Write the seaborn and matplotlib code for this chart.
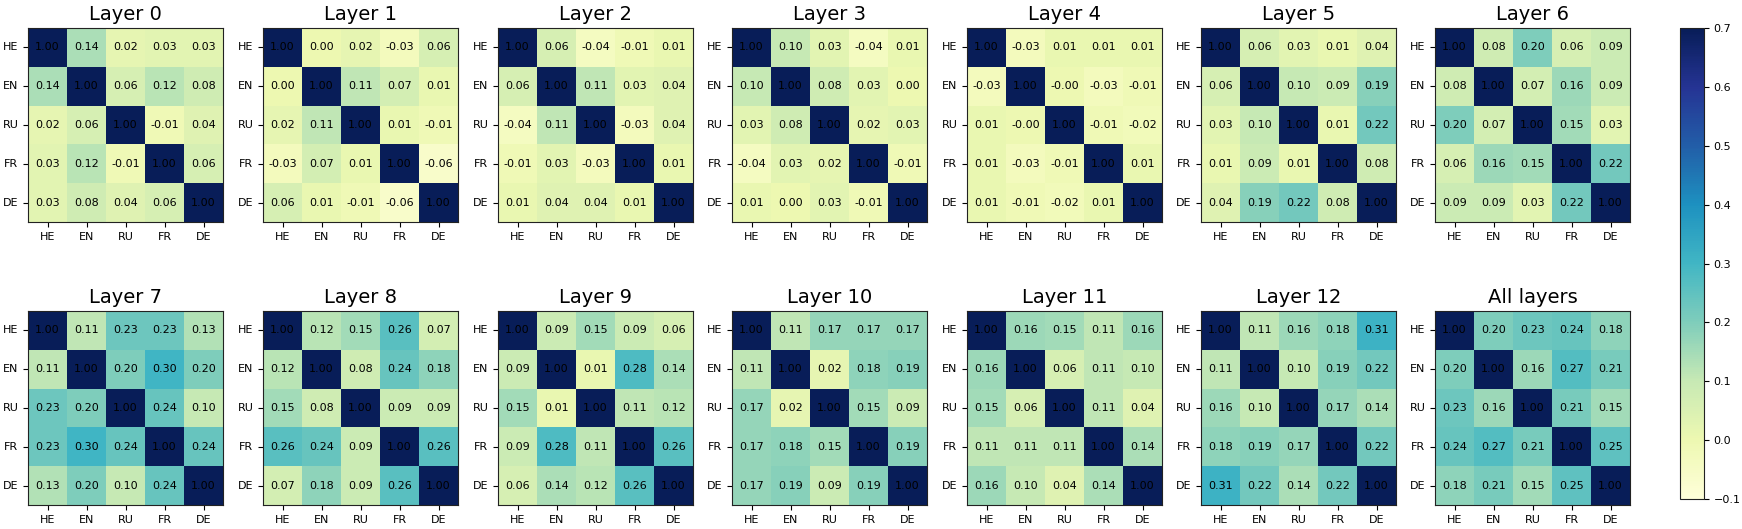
import numpy as np
import matplotlib
matplotlib.use("Agg")
import matplotlib.pyplot as plt
import seaborn as sns

langs = ["HE", "EN", "RU", "FR", "DE"]
titles = ["Layer 0", "Layer 1", "Layer 2", "Layer 3", "Layer 4", "Layer 5", "Layer 6",
          "Layer 7", "Layer 8", "Layer 9", "Layer 10", "Layer 11", "Layer 12", "All layers"]

layer_0 = [[1.00, 0.14, 0.02, 0.03, 0.03],
           [0.14, 1.00, 0.06, 0.12, 0.08],
           [0.02, 0.06, 1.00, -0.01, 0.04],
           [0.03, 0.12, -0.01, 1.00, 0.06],
           [0.03, 0.08, 0.04, 0.06, 1.00]]
layer_1 = [[1.00, 0.00, 0.02, -0.03, 0.06],
           [0.00, 1.00, 0.11, 0.07, 0.01],
           [0.02, 0.11, 1.00, 0.01, -0.01],
           [-0.03, 0.07, 0.01, 1.00, -0.06],
           [0.06, 0.01, -0.01, -0.06, 1.00]]
layer_2 = [[1.00, 0.06, -0.04, -0.01, 0.01],
           [0.06, 1.00, 0.11, 0.03, 0.04],
           [-0.04, 0.11, 1.00, -0.03, 0.04],
           [-0.01, 0.03, -0.03, 1.00, 0.01],
           [0.01, 0.04, 0.04, 0.01, 1.00]]
layer_3 = [[1.00, 0.10, 0.03, -0.04, 0.01],
           [0.10, 1.00, 0.08, 0.03, 0.00],
           [0.03, 0.08, 1.00, 0.02, 0.03],
           [-0.04, 0.03, 0.02, 1.00, -0.01],
           [0.01, 0.00, 0.03, -0.01, 1.00]]
layer_4 = [[1.00, -0.03, 0.01, 0.01, 0.01],
           [-0.03, 1.00, -0.001, -0.03, -0.01],
           [0.01, -0.001, 1.00, -0.01, -0.02],
           [0.01, -0.03, -0.01, 1.00, 0.01],
           [0.01, -0.01, -0.02, 0.01, 1.00]]
layer_5 = [[1.00, 0.06, 0.03, 0.01, 0.04],
           [0.06, 1.00, 0.10, 0.09, 0.19],
           [0.03, 0.10, 1.00, 0.01, 0.22],
           [0.01, 0.09, 0.01, 1.00, 0.08],
           [0.04, 0.19, 0.22, 0.08, 1.00]]
layer_6 = [[1.00, 0.08, 0.20, 0.06, 0.09],
           [0.08, 1.00, 0.07, 0.16, 0.09],
           [0.20, 0.07, 1.00, 0.15, 0.03],
           [0.06, 0.16, 0.15, 1.00, 0.22],
           [0.09, 0.09, 0.03, 0.22, 1.00]]
layer_7 = [[1.00, 0.11, 0.23, 0.23, 0.13],
           [0.11, 1.00, 0.20, 0.30, 0.20],
           [0.23, 0.20, 1.00, 0.24, 0.10],
           [0.23, 0.30, 0.24, 1.00, 0.24],
           [0.13, 0.20, 0.10, 0.24, 1.00]]
layer_8 = [[1.00, 0.12, 0.15, 0.26, 0.07],
           [0.12, 1.00, 0.08, 0.24, 0.18],
           [0.15, 0.08, 1.00, 0.09, 0.09],
           [0.26, 0.24, 0.09, 1.00, 0.26],
           [0.07, 0.18, 0.09, 0.26, 1.00]]
layer_9 = [[1.00, 0.09, 0.15, 0.09, 0.06],
           [0.09, 1.00, 0.01, 0.28, 0.14],
           [0.15, 0.01, 1.00, 0.11, 0.12],
           [0.09, 0.28, 0.11, 1.00, 0.26],
           [0.06, 0.14, 0.12, 0.26, 1.00]]
layer_10 = [[1.00, 0.11, 0.17, 0.17, 0.17],
            [0.11, 1.00, 0.02, 0.18, 0.19],
            [0.17, 0.02, 1.00, 0.15, 0.09],
            [0.17, 0.18, 0.15, 1.00, 0.19],
            [0.17, 0.19, 0.09, 0.19, 1.00]]
layer_11 = [[1.00, 0.16, 0.15, 0.11, 0.16],
            [0.16, 1.00, 0.06, 0.11, 0.10],
            [0.15, 0.06, 1.00, 0.11, 0.04],
            [0.11, 0.11, 0.11, 1.00, 0.14],
            [0.16, 0.10, 0.04, 0.14, 1.00]]
layer_12 = [[1.00, 0.11, 0.16, 0.18, 0.31],
            [0.11, 1.00, 0.10, 0.19, 0.22],
            [0.16, 0.10, 1.00, 0.17, 0.14],
            [0.18, 0.19, 0.17, 1.00, 0.22],
            [0.31, 0.22, 0.14, 0.22, 1.00]]
all_layers = [[1.00, 0.20, 0.23, 0.24, 0.18],
              [0.20, 1.00, 0.16, 0.27, 0.21],
              [0.23, 0.16, 1.00, 0.21, 0.15],
              [0.24, 0.27, 0.21, 1.00, 0.25],
              [0.18, 0.21, 0.15, 0.25, 1.00]]

matrices = [layer_0, layer_1, layer_2, layer_3, layer_4, layer_5, layer_6,
            layer_7, layer_8, layer_9, layer_10, layer_11, layer_12, all_layers]

W, H = 1742, 529
fig = plt.figure(figsize=(W / 100, H / 100), dpi=100)

col_left = [28, 263, 498, 732, 967, 1201, 1435]
row_top = [28, 311]
aw, ah = 195, 194

cax = fig.add_axes([1680 / W, (H - 499) / H, 24 / W, 471 / H])

for i, (mat, title) in enumerate(zip(matrices, titles)):
    r, c = divmod(i, 7)
    x0 = col_left[c]
    y0 = row_top[r]
    ax = fig.add_axes([x0 / W, (H - y0 - ah) / H, aw / W, ah / H])
    last = (i == len(matrices) - 1)
    sns.heatmap(np.array(mat), ax=ax, cmap="YlGnBu", vmin=-0.1, vmax=0.7,
                annot=True, fmt=".2f", annot_kws={"color": "black", "fontsize": 8},
                xticklabels=langs, yticklabels=langs, square=False,
                cbar=last, cbar_ax=cax if last else None)
    for s in ax.spines.values():
        s.set_visible(True)
        s.set_linewidth(0.8)
        s.set_color("#222222")
    ax.tick_params(axis="both", which="major", length=3.5, width=0.8,
                   labelsize=8, left=True, bottom=True)
    plt.setp(ax.get_xticklabels(), rotation=0)
    plt.setp(ax.get_yticklabels(), rotation=0)
    ax.set_title(title, fontsize=14)

cb = ax.collections[0].colorbar
cb.set_ticks([-0.1, 0.0, 0.1, 0.2, 0.3, 0.4, 0.5, 0.6, 0.7])
cb.ax.tick_params(labelsize=8, length=3.5, width=0.8)
cb.outline.set_visible(True)
cb.outline.set_linewidth(0.8)
cb.outline.set_edgecolor("#222222")

fig.savefig("out.png", dpi=100, facecolor="white")
